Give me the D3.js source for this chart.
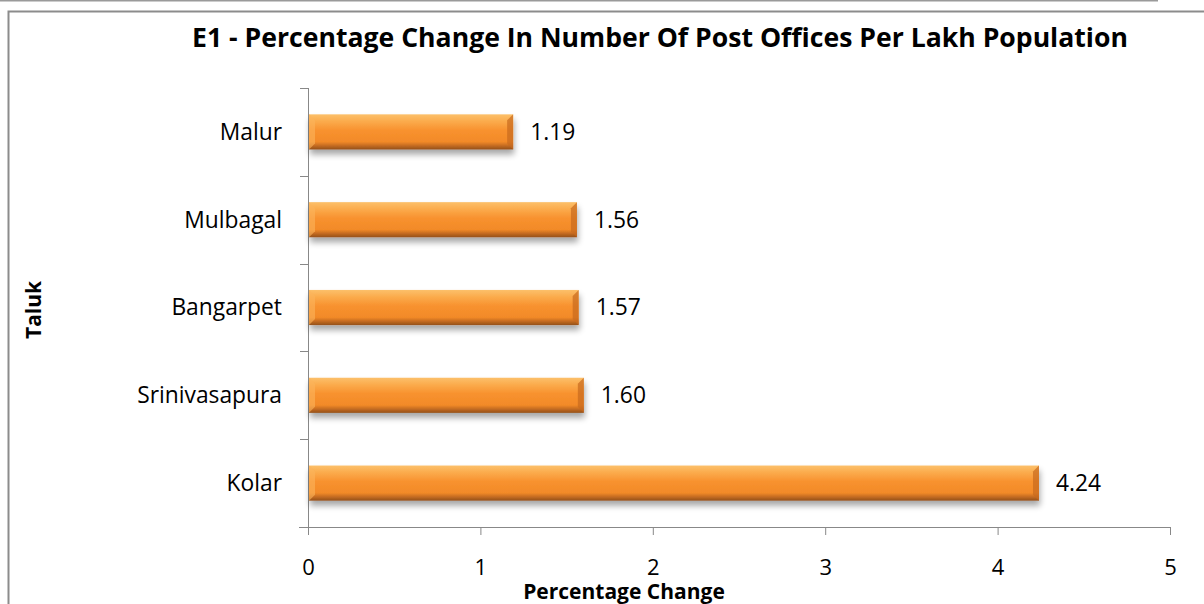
<!DOCTYPE html>
<html><head><meta charset="utf-8">
<script src="https://cdn.jsdelivr.net/npm/d3@7"></script>
<style>
html,body{margin:0;padding:0;background:#fff;}
svg{display:block;font-family:"Open Sans","Noto Sans",sans-serif;}
</style></head>
<body>
<svg id="c" width="1204" height="604"></svg>
<script>
const categories = ["Malur","Mulbagal","Bangarpet","Srinivasapura","Kolar"];
const values = [1.19,1.56,1.57,1.60,4.24];
const valueLabels = ["1.19","1.56","1.57","1.60","4.24"];
const xTicks = [0,1,2,3,4,5];
const title = "E1 - Percentage Change In Number Of Post Offices Per Lakh Population";

const svg = d3.select("#c");
const defs = svg.append("defs");
const g1 = defs.append("linearGradient").attr("id","barG").attr("x1",0).attr("y1",0).attr("x2",0).attr("y2",1);
[[0,"#fcc06a"],[0.2,"#fbab4c"],[0.45,"#f8922f"],[0.78,"#f28a28"],[0.88,"#c96e22"],[1,"#94501a"]].forEach(s=>g1.append("stop").attr("offset",s[0]).attr("stop-color",s[1]));
const f = defs.append("filter").attr("id","sh").attr("x","-5%").attr("y","-30%").attr("width","115%").attr("height","190%");
f.append("feGaussianBlur").attr("in","SourceAlpha").attr("stdDeviation",3).attr("result","b");
f.append("feOffset").attr("in","b").attr("dx",1).attr("dy",5).attr("result","o");
f.append("feComponentTransfer").attr("in","o").attr("result","o2").append("feFuncA").attr("type","linear").attr("slope",0.35);
const m = f.append("feMerge"); m.append("feMergeNode").attr("in","o2"); m.append("feMergeNode").attr("in","SourceGraphic");

// outer lines
svg.append("line").attr("x1",0).attr("x2",1158).attr("y1",0.5).attr("y2",0.5).attr("stroke","#9a9a9a").attr("stroke-width",2);
svg.append("path").attr("d","M8.5,604 V11.5 H1204").attr("fill","none").attr("stroke","#8c8c8c").attr("stroke-width",2);

const x = d3.scaleLinear().domain([0,5]).range([308,1170]);
const y = d3.scaleBand().domain(categories).range([88,527]).paddingInner(0.6).paddingOuter(0.3);

svg.append("text").attr("x",660).attr("y",47).attr("text-anchor","middle").attr("font-size",26.6).attr("font-weight","bold").attr("fill","#000").text(title);

// x axis
const xa = svg.append("g").attr("transform","translate(0,527)").call(d3.axisBottom(x).tickValues(xTicks).tickFormat(d3.format("d")).tickSize(8).tickSizeOuter(0).tickPadding(24));
xa.select(".domain").remove();
xa.append("line").attr("x1",299).attr("x2",1170).attr("y1",0.5).attr("y2",0.5).attr("stroke","#888");
xa.selectAll(".tick line").attr("stroke","#888");
xa.selectAll(".tick text").attr("font-size",22).attr("fill","#000").attr("font-family","Open Sans, sans-serif");

// y axis
const ya = svg.append("g").attr("transform","translate(308,0)");
ya.append("line").attr("x1",0.5).attr("x2",0.5).attr("y1",88).attr("y2",535).attr("stroke","#888");
const tickYs = d3.range(categories.length+1).map(i=>88+i*(439/categories.length));
ya.selectAll("line.t").data(tickYs).join("line").attr("class","t").attr("x1",-8).attr("x2",0).attr("y1",d=>Math.round(d)+0.5).attr("y2",d=>Math.round(d)+0.5).attr("stroke","#888");
ya.selectAll("text").data(categories).join("text").attr("x",-26).attr("y",d=>y(d)+y.bandwidth()/2).attr("dy","0.35em").attr("text-anchor","end").attr("font-size",22.8).attr("fill","#000").text(d=>d);

// bars
const bars = svg.append("g");
bars.selectAll("rect").data(categories).join("rect")
  .attr("x",x(0)+1).attr("y",d=>y(d)).attr("width",(d,i)=>x(values[i])-x(0)-1).attr("height",y.bandwidth())
  .attr("fill","url(#barG)").attr("filter","url(#sh)");
bars.selectAll("path.l").data(categories).join("path").attr("class","l")
  .attr("d",d=>{const y0=y(d),h=y.bandwidth(),x0=x(0)+1;return `M${x0},${y0}L${x0+6},${y0+6}L${x0+6},${y0+h-6}L${x0},${y0+h}Z`;})
  .attr("fill","#fbb45c").attr("opacity",0.6);
bars.selectAll("path.r").data(categories).join("path").attr("class","r")
  .attr("d",(d,i)=>{const y0=y(d),h=y.bandwidth(),x1=x(values[i]);return `M${x1},${y0}L${x1-6},${y0+6}L${x1-6},${y0+h-6}L${x1},${y0+h}Z`;})
  .attr("fill","#c8691e").attr("opacity",0.7);

svg.append("g").selectAll("text").data(categories).join("text")
  .attr("x",(d,i)=>x(values[i])+17).attr("y",d=>y(d)+y.bandwidth()/2).attr("dy","0.35em")
  .attr("font-size",22.8).attr("fill","#000").text((d,i)=>valueLabels[i]);

svg.append("text").attr("x",624).attr("y",599).attr("text-anchor","middle").attr("font-size",21).attr("font-weight","bold").text("Percentage Change");
svg.append("text").attr("transform","translate(41,310) rotate(-90)").attr("text-anchor","middle").attr("font-size",21).attr("font-weight","bold").text("Taluk");
</script>
</body></html>
